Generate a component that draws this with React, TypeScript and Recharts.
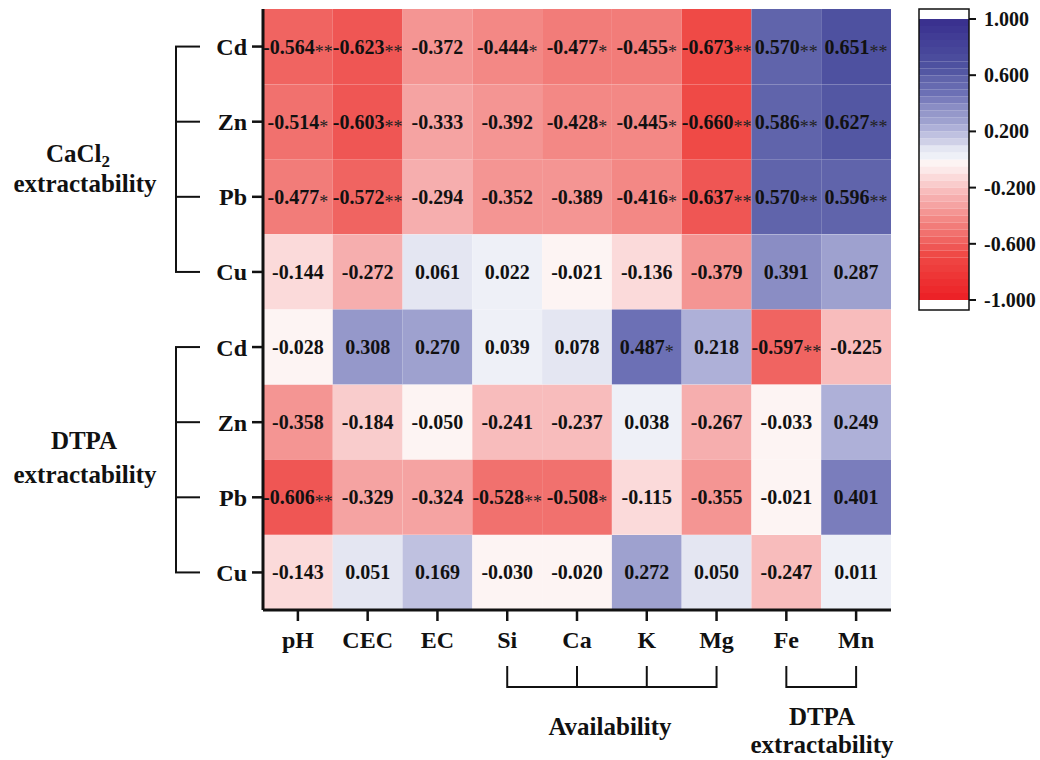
import React from 'react'
import { BarChart, Bar, XAxis, YAxis, Cell, LabelList } from 'recharts'

const FONT = "'Liberation Serif', 'Times New Roman', serif"

// columns (soil properties) and rows (metals)
const cols = ['pH', 'CEC', 'EC', 'Si', 'Ca', 'K', 'Mg', 'Fe', 'Mn']
const rowMetals = ['Cd', 'Zn', 'Pb', 'Cu', 'Cd', 'Zn', 'Pb', 'Cu']

// CaCl2 extractable metals
const cacl2Cd = ['-0.564**', '-0.623**', '-0.372', '-0.444*', '-0.477*', '-0.455*', '-0.673**', '0.570**', '0.651**']
const cacl2Zn = ['-0.514*', '-0.603**', '-0.333', '-0.392', '-0.428*', '-0.445*', '-0.660**', '0.586**', '0.627**']
const cacl2Pb = ['-0.477*', '-0.572**', '-0.294', '-0.352', '-0.389', '-0.416*', '-0.637**', '0.570**', '0.596**']
const cacl2Cu = ['-0.144', '-0.272', '0.061', '0.022', '-0.021', '-0.136', '-0.379', '0.391', '0.287']
// DTPA extractable metals
const dtpaCd = ['-0.028', '0.308', '0.270', '0.039', '0.078', '0.487*', '0.218', '-0.597**', '-0.225']
const dtpaZn = ['-0.358', '-0.184', '-0.050', '-0.241', '-0.237', '0.038', '-0.267', '-0.033', '0.249']
const dtpaPb = ['-0.606**', '-0.329', '-0.324', '-0.528**', '-0.508*', '-0.115', '-0.355', '-0.021', '0.401']
const dtpaCu = ['-0.143', '0.051', '0.169', '-0.030', '-0.020', '0.272', '0.050', '-0.247', '0.011']

const matrix = [cacl2Cd, cacl2Zn, cacl2Pb, cacl2Cu, dtpaCd, dtpaZn, dtpaPb, dtpaCu]

const legendTicks = [-1, -0.6, -0.2, 0.2, 0.6, 1]

// colour scale (red -> white -> blue), sampled at bin centres
const stops: [number, string][] = [
  [-0.975, '#ec2227'], [-0.675, '#ef4a46'], [-0.625, '#ef5654'], [-0.575, '#f06461'],
  [-0.525, '#f1716e'], [-0.475, '#f27c79'], [-0.425, '#f38885'], [-0.375, '#f49593'],
  [-0.325, '#f5a3a2'], [-0.275, '#f6aeae'], [-0.225, '#f8bcbc'], [-0.175, '#f9cccc'],
  [-0.125, '#fbdada'], [-0.075, '#fce9e9'], [-0.025, '#fdf4f3'], [0.025, '#eef0f7'],
  [0.075, '#e4e6f2'], [0.125, '#cfd0e7'], [0.175, '#bfc1e0'], [0.225, '#aeb0d8'],
  [0.275, '#9ea1cf'], [0.325, '#9598ca'], [0.375, '#8a8dc4'], [0.425, '#7a7dbc'],
  [0.475, '#6c70b5'], [0.575, '#6064ab'], [0.625, '#5357a3'], [0.675, '#4e51a0'],
  [0.975, '#3a318f'],
]

const hex = (h: string) => [1, 3, 5].map((i) => parseInt(h.slice(i, i + 2), 16))

function colorOf(v: number) {
  const q = Math.max(-0.975, Math.min(0.975, (Math.floor(v / 0.05) + 0.5) * 0.05))
  for (let i = 0; i < stops.length - 1; i++) {
    const [a, ca] = stops[i]
    const [b, cb] = stops[i + 1]
    if (q >= a - 1e-9 && q <= b + 1e-9) {
      const t = (q - a) / (b - a)
      const A = hex(ca)
      const B = hex(cb)
      return `rgb(${A.map((x, k) => Math.round(x + (B[k] - x) * t)).join(',')})`
    }
  }
  return stops[stops.length - 1][1]
}

const data = matrix.map((_, i) => ({
  id: `r${i}`,
  ...Object.fromEntries(cols.map((c) => [c, 1])),
}))

// colour bar: 40 bins of 0.05 from -1 to 1, stacked outward from 0
const binStep = 0.05
const bins = Array.from({ length: 40 }, (_, i) => Math.round((-1 + i * binStep) * 100) / 100)
const binOrder = [...bins].sort((a, b) => Math.abs(a + binStep / 2) - Math.abs(b + binStep / 2))
const cbData = [{ name: 'scale', ...Object.fromEntries(bins.map((b, i) => [`b${i}`, b < 0 ? -binStep : binStep])) }]

// layout of the main plot
const W = 1040
const H = 760
const PL = 263
const PR = 891
const PT = 9
const PB = 610
const colW = (PR - PL) / cols.length
const rowH = (PB - PT) / rowMetals.length
const rowY = (i: number) => PT + rowH * (i + 0.5)
const colX = (j: number) => PL + colW * (j + 0.5)

// colour bar box
const CB = { left: 919, top: 9, width: 50, height: 301 }

const frame = { stroke: '#111', strokeWidth: 3 }

const cellLabel = (ci: number) => (props: any) => {
  const { x, y, width, height, index } = props
  const s = matrix[index][ci]
  const num = s.replace(/\*/g, '')
  const stars = s.slice(num.length)
  return (
    <text x={x + width / 2} y={y + height / 2 + 7} textAnchor="middle" fontFamily={FONT} fontSize={20} fontWeight="bold" fill="#111">
      {num}
      {stars && (
        <tspan fontSize={18} fontWeight="normal" fill="#222" dy={4}>
          {stars}
        </tspan>
      )}
    </text>
  )
}

function Brackets() {
  const txt = { fontFamily: FONT, fontWeight: 'bold' as const, fontSize: 25, fill: '#111', textAnchor: 'middle' as const }
  const line = { stroke: '#111', strokeWidth: 2 }
  return (
    <svg width={W} height={H} style={{ position: 'absolute', left: 0, top: 0, pointerEvents: 'none' }}>
      <rect x={CB.left} y={CB.top} width={CB.width} height={CB.height} fill="none" stroke="#111" strokeWidth={1.5} />
      {[0, 4].map((g) => (
        <g key={g}>
          <line x1={176} x2={176} y1={rowY(g)} y2={rowY(g + 3)} {...line} />
          {[0, 1, 2, 3].map((k) => (
            <line key={k} x1={175} x2={200} y1={rowY(g + k)} y2={rowY(g + k)} {...line} />
          ))}
        </g>
      ))}
      <text x={78} y={162} {...txt}>
        CaCl<tspan fontSize={17} dy={5}>2</tspan>
      </text>
      <text x={85} y={192} {...txt}>extractability</text>
      <text x={84} y={449} {...txt}>DTPA</text>
      <text x={85} y={483} {...txt}>extractability</text>

      <line x1={colX(3)} x2={colX(6)} y1={687} y2={687} {...line} />
      {[3, 4, 5, 6].map((j) => (
        <line key={j} x1={colX(j)} x2={colX(j)} y1={666} y2={688} {...line} />
      ))}
      <line x1={colX(7)} x2={colX(8)} y1={687} y2={687} {...line} />
      {[7, 8].map((j) => (
        <line key={j} x1={colX(j)} x2={colX(j)} y1={666} y2={688} {...line} />
      ))}
      <text x={610} y={735} {...txt}>Availability</text>
      <text x={822} y={725} {...txt}>DTPA</text>
      <text x={822} y={753} {...txt}>extractability</text>
    </svg>
  )
}

export default function App() {
  const tickStyle = { fontSize: 24, fontWeight: 'bold', fill: '#111', fontFamily: FONT }
  return (
    <div style={{ position: 'absolute', left: 0, top: 0, width: W, height: H, background: '#fff' }}>
      <BarChart
        width={W}
        height={H}
        data={data}
        layout="vertical"
        barCategoryGap={0}
        margin={{ top: PT, left: PL - 60, right: W - PR, bottom: H - PB - 40 }}
        style={{ position: 'absolute', left: 0, top: 0 }}
      >
        <XAxis
          type="number"
          domain={[0, cols.length]}
          ticks={cols.map((_, j) => j + 0.5)}
          tickFormatter={(v) => cols[Math.floor(v)]}
          interval={0}
          height={40}
          tickSize={11}
          tickMargin={10}
          tick={tickStyle}
          axisLine={frame}
          tickLine={{ stroke: '#111', strokeWidth: 2.5 }}
        />
        <XAxis xAxisId="top" orientation="top" type="number" domain={[0, cols.length]} height={0} tick={false} tickLine={false} axisLine={frame} />
        <YAxis
          type="category"
          dataKey="id"
          width={60}
          interval={0}
          tickFormatter={(v) => rowMetals[Number(String(v).slice(1))]}
          tickSize={11}
          tickMargin={5}
          tick={tickStyle}
          axisLine={frame}
          tickLine={{ stroke: '#111', strokeWidth: 2.5 }}
        />
        <YAxis yAxisId="right" orientation="right" type="category" dataKey="id" width={0} tick={false} tickLine={false} axisLine={frame} />
        {cols.map((c, ci) => (
          <Bar key={c} dataKey={c} stackId="row" isAnimationActive={false}>
            {matrix.map((row, ri) => (
              <Cell key={ri} fill={colorOf(parseFloat(row[ci]))} />
            ))}
            <LabelList dataKey={c} content={cellLabel(ci)} />
          </Bar>
        ))}
      </BarChart>

      <BarChart
        width={140}
        height={330}
        data={cbData}
        stackOffset="sign"
        barCategoryGap={0}
        margin={{ top: CB.top, left: CB.left - 900, right: 1, bottom: 330 - CB.top - CB.height }}
        style={{ position: 'absolute', left: 900, top: 0 }}
      >
        <XAxis dataKey="name" hide />
        <YAxis
          orientation="right"
          type="number"
          domain={[-1.071, 1.071]}
          allowDataOverflow
          ticks={legendTicks}
          tickFormatter={(v) => Number(v).toFixed(3)}
          width={70}
          axisLine={false}
          tickSize={7}
          tickMargin={8}
          tick={{ fontSize: 20, fontWeight: 'bold', fill: '#111', fontFamily: FONT }}
          tickLine={{ stroke: '#111', strokeWidth: 2 }}
        />
        {binOrder.map((b) => {
          const i = bins.indexOf(b)
          return <Bar key={i} dataKey={`b${i}`} stackId="cb" fill={colorOf(b + binStep / 2)} isAnimationActive={false} />
        })}
      </BarChart>

      <Brackets />
    </div>
  )
}
